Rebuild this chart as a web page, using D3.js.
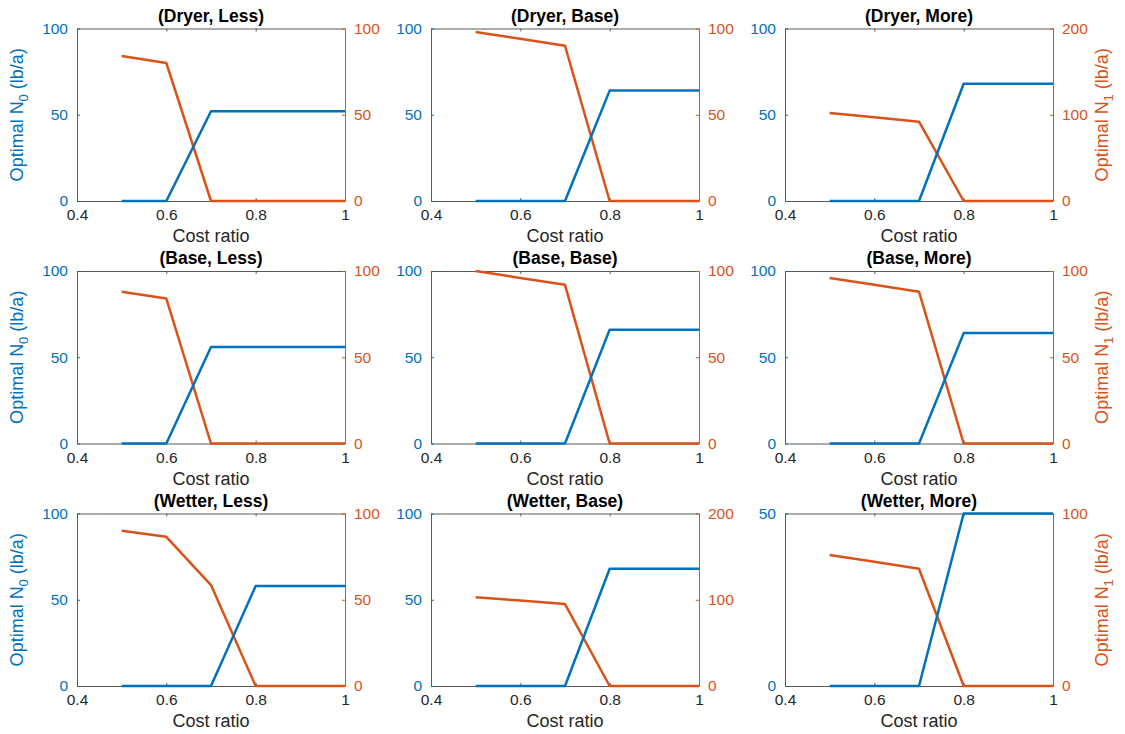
<!DOCTYPE html>
<html>
<head>
<meta charset="utf-8">
<script src="https://cdn.jsdelivr.net/npm/d3@7"></script>
<style>
  html, body { margin: 0; padding: 0; background: #fff; }
  svg { display: block; font-family: "Liberation Sans", Arial, Helvetica, sans-serif; }
</style>
</head>
<body>
<svg id="chart" width="1125" height="734"></svg>
<script>
// ---------------- data ----------------
const costRatio = [0.5, 0.6, 0.7, 0.8, 0.9, 1.0];
const xTicks = [0.4, 0.6, 0.8, 1];
const panelTitles = [
  "(Dryer, Less)", "(Dryer, Base)", "(Dryer, More)",
  "(Base, Less)", "(Base, Base)", "(Base, More)",
  "(Wetter, Less)", "(Wetter, Base)", "(Wetter, More)"
];
const optimalN0 = [
  [0, 0, 52, 52, 52, 52],
  [0, 0, 0, 64, 64, 64],
  [0, 0, 0, 68, 68, 68],
  [0, 0, 56, 56, 56, 56],
  [0, 0, 0, 66, 66, 66],
  [0, 0, 0, 64, 64, 64],
  [0, 0, 0, 58, 58, 58],
  [0, 0, 0, 68, 68, 68],
  [0, 0, 0, 50, 50, 50]
];
const optimalN1 = [
  [84, 80, 0, 0, 0, 0],
  [98, 94, 90, 0, 0, 0],
  [102, 97, 92, 0, 0, 0],
  [88, 84, 0, 0, 0, 0],
  [100, 96, 92, 0, 0, 0],
  [96, 92, 88, 0, 0, 0],
  [90, 86.5, 58.5, 0, 0, 0],
  [103, 99, 95, 0, 0, 0],
  [76, 72, 68, 0, 0, 0]
];
const leftMax = [100, 100, 100, 100, 100, 100, 100, 100, 50];
const rightMax = [100, 100, 200, 100, 100, 100, 100, 200, 100];
const leftTicks = [[0, 50, 100], [0, 50, 100], [0, 50, 100], [0, 50, 100], [0, 50, 100], [0, 50, 100], [0, 50, 100], [0, 50, 100], [0, 50]];
const rightTicks = [[0, 50, 100], [0, 50, 100], [0, 100, 200], [0, 50, 100], [0, 50, 100], [0, 50, 100], [0, 50, 100], [0, 100, 200], [0, 100]];
const xLabel = "Cost ratio";

// ---------------- layout ----------------
const colLeft = [77, 431, 785];
const rowTop = [28.5, 271, 513.5];
const pw = 268, ph = 172.5;
const blue = "#0072BD", orange = "#D95319", axisGray = "#5a5a5a", textDark = "#262626";
const tickLen = 3;
const tickFont = "15.5px", labelFont = "18px";

const svg = d3.select("#chart");

panelTitles.forEach((title, i) => {
  const r = Math.floor(i / 3), c = i % 3;
  const g = svg.append("g").attr("transform", `translate(${colLeft[c]},${rowTop[r]})`);

  const x = d3.scaleLinear().domain([0.4, 1]).range([0, pw]);
  const yL = d3.scaleLinear().domain([0, leftMax[i]]).range([ph, 0]);
  const yR = d3.scaleLinear().domain([0, rightMax[i]]).range([ph, 0]);

  // bottom axis
  const xb = g.append("g").attr("transform", `translate(0,${ph})`)
    .call(d3.axisBottom(x).tickValues(xTicks).tickFormat(d3.format("~g")).tickSizeInner(-tickLen).tickSizeOuter(0).tickPadding(8));
  xb.select(".domain").attr("stroke", axisGray);
  xb.selectAll(".tick line").attr("stroke", axisGray);
  xb.selectAll(".tick text").attr("fill", textDark).attr("font-size", tickFont);

  // top axis (ticks only)
  const xt = g.append("g")
    .call(d3.axisTop(x).tickValues(xTicks).tickFormat("").tickSizeInner(-tickLen).tickSizeOuter(0));
  xt.select(".domain").attr("stroke", axisGray);
  xt.selectAll(".tick line").attr("stroke", axisGray);

  // left axis
  const ya = g.append("g")
    .call(d3.axisLeft(yL).tickValues(leftTicks[i]).tickSizeInner(-tickLen).tickSizeOuter(0).tickPadding(9));
  ya.select(".domain").attr("stroke", blue);
  ya.selectAll(".tick line").attr("stroke", blue);
  ya.selectAll(".tick text").attr("fill", blue).attr("font-size", tickFont);

  // right axis
  const yb = g.append("g").attr("transform", `translate(${pw},0)`)
    .call(d3.axisRight(yR).tickValues(rightTicks[i]).tickSizeInner(-tickLen).tickSizeOuter(0).tickPadding(9));
  yb.select(".domain").attr("stroke", orange);
  yb.selectAll(".tick line").attr("stroke", orange);
  yb.selectAll(".tick text").attr("fill", orange).attr("font-size", tickFont);

  // lines
  const lineL = d3.line().x((d, k) => x(costRatio[k])).y(d => yL(d));
  const lineR = d3.line().x((d, k) => x(costRatio[k])).y(d => yR(d));
  g.append("path").datum(optimalN1[i]).attr("d", lineR)
    .attr("fill", "none").attr("stroke", orange).attr("stroke-width", 2.5).attr("stroke-linejoin", "round");
  g.append("path").datum(optimalN0[i]).attr("d", lineL)
    .attr("fill", "none").attr("stroke", blue).attr("stroke-width", 2.5).attr("stroke-linejoin", "round");

  // title
  g.append("text").attr("x", pw / 2).attr("y", -7).attr("text-anchor", "middle")
    .attr("font-size", "17.5px").attr("font-weight", "bold").attr("fill", "#000").text(title);

  // x label
  g.append("text").attr("x", pw / 2).attr("y", ph + 41).attr("text-anchor", "middle")
    .attr("font-size", labelFont).attr("fill", textDark).text(xLabel);

  // left y label
  if (c === 0) {
    const t = g.append("text").attr("transform", `translate(${-54.5},${ph / 2}) rotate(-90)`)
      .attr("text-anchor", "middle").attr("font-size", labelFont).attr("fill", blue);
    t.append("tspan").text("Optimal N");
    t.append("tspan").attr("font-size", "13px").attr("dy", "5").text("0");
    t.append("tspan").attr("dy", "-5").text(" (lb/a)");
  }
  // right y label
  if (c === 2) {
    const t = g.append("text").attr("transform", `translate(${pw + 55},${ph / 2}) rotate(-90)`)
      .attr("text-anchor", "middle").attr("font-size", labelFont).attr("fill", orange);
    t.append("tspan").text("Optimal N");
    t.append("tspan").attr("font-size", "13px").attr("dy", "5").text("1");
    t.append("tspan").attr("dy", "-5").text(" (lb/a)");
  }
});
</script>
</body>
</html>
